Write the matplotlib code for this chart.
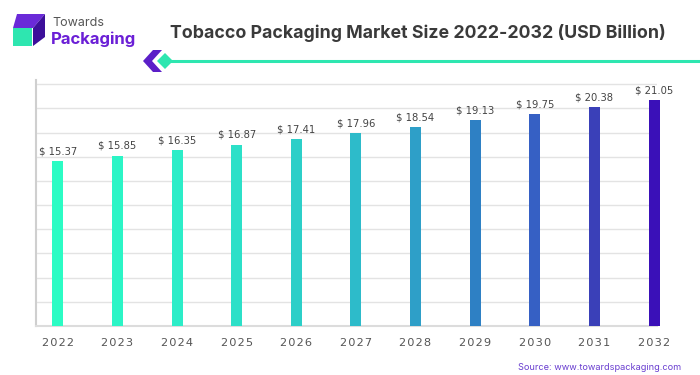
import matplotlib
matplotlib.use("Agg")
import matplotlib.pyplot as plt
from matplotlib.patches import Polygon, Rectangle
from matplotlib.lines import Line2D

years = ["2022", "2023", "2024", "2025", "2026", "2027", "2028", "2029", "2030", "2031", "2032"]
values = [15.37, 15.85, 16.35, 16.87, 17.41, 17.96, 18.54, 19.13, 19.75, 20.38, 21.05]
colors = ["#2BFCC4", "#2BF5C6", "#2CEDC8", "#2CE0C8", "#2CCFC8", "#2DBBCA",
          "#2E9FC8", "#2E80C4", "#3660C4", "#3A40B8", "#3A10B8"]
title = "Tobacco Packaging Market Size 2022-2032 (USD Billion)"
source = "Source: www.towardspackaging.com"

W, H = 700, 375
fig = plt.figure(figsize=(7, 3.75), dpi=100)
fig.patch.set_facecolor("white")

def fx(x):
    return x / W

def fy(y):
    return 1 - y / H

ax = fig.add_axes([fx(36), fy(326), fx(657) - fx(36), fy(80) - fy(326)])
xs = list(range(len(years)))
bars = ax.bar(xs, values, width=0.185, color=colors, zorder=3, clip_on=False)
ax.set_xlim(-0.366, 10.05)
ax.set_ylim(0, 22.9)
ax.set_yticks([2.25 * i for i in range(1, 11)])
ax.yaxis.grid(True, color="#e3e3e3", linewidth=1.0, zorder=0)
ax.tick_params(axis="y", length=0, labelleft=False)
ax.tick_params(axis="x", length=0, pad=9)
ax.set_xticks(xs)
ax.set_xticklabels(["\u200a".join(list(y)) for y in years], fontsize=8.2,
                   color="#555555", family="DejaVu Sans")
for s in ["top", "right"]:
    ax.spines[s].set_visible(False)
ax.spines["left"].set_color("#cfcfcf")
ax.spines["left"].set_linewidth(1.5)
ax.spines["bottom"].set_color("#dcdcdc")
ax.spines["bottom"].set_linewidth(1.5)

for x, v in zip(xs, values):
    ax.text(x, v + 0.45, f"$ {v:.2f}", ha="center", va="bottom", fontsize=7.2,
            color="#444444", family="DejaVu Sans", zorder=4)

# title
fig.text(fx(170), fy(33), title, ha="left", va="center", fontsize=12.75,
         fontweight="bold", color="#3a3a3a", family="Inter")

# teal line with diamond and chevron
fig.add_artist(Line2D([fx(168), fx(700)], [fy(61), fy(61)], color="#2EE6B0",
                      linewidth=2.2, transform=fig.transFigure))
dia = [(157, 61), (165, 53), (173, 61), (165, 69)]
fig.add_artist(Polygon([(fx(a), fy(b)) for a, b in dia], closed=True,
                       facecolor="#2EE6B0", edgecolor="none", transform=fig.transFigure))
chev = [(153, 50), (162, 50), (152, 61), (162, 72), (153, 72), (143, 61)]
fig.add_artist(Polygon([(fx(a), fy(b)) for a, b in chev], closed=True,
                       facecolor="#5B1FC8", edgecolor="none", transform=fig.transFigure))

# logo
fig.add_artist(Rectangle((fx(13), fy(46)), fx(19), fy(28) - fy(46),
                         facecolor="#2EE6B0", edgecolor="none", transform=fig.transFigure))
top = [(13, 28), (17, 14), (45, 14), (33, 28)]
fig.add_artist(Polygon([(fx(a), fy(b)) for a, b in top], closed=True,
                       facecolor="#6A2AD8", edgecolor="none", transform=fig.transFigure))
side = [(33, 28), (45, 14), (45, 37), (33, 46)]
fig.add_artist(Polygon([(fx(a), fy(b)) for a, b in side], closed=True,
                       facecolor="#3C0F9A", edgecolor="none", transform=fig.transFigure))
fig.text(fx(52), fy(23), "Towards", ha="left", va="center", fontsize=9,
         color="#555555", family="Inter")
fig.text(fx(51), fy(39), "Packaging", ha="left", va="center", fontsize=12,
         fontweight="bold", color="#6B1FD6", family="Inter")

fig.text(fx(681), fy(367), source, ha="right", va="center", fontsize=6.6,
         color="#6A3FD0", family="Inter")

fig.savefig("out.png", dpi=100, facecolor="white")
